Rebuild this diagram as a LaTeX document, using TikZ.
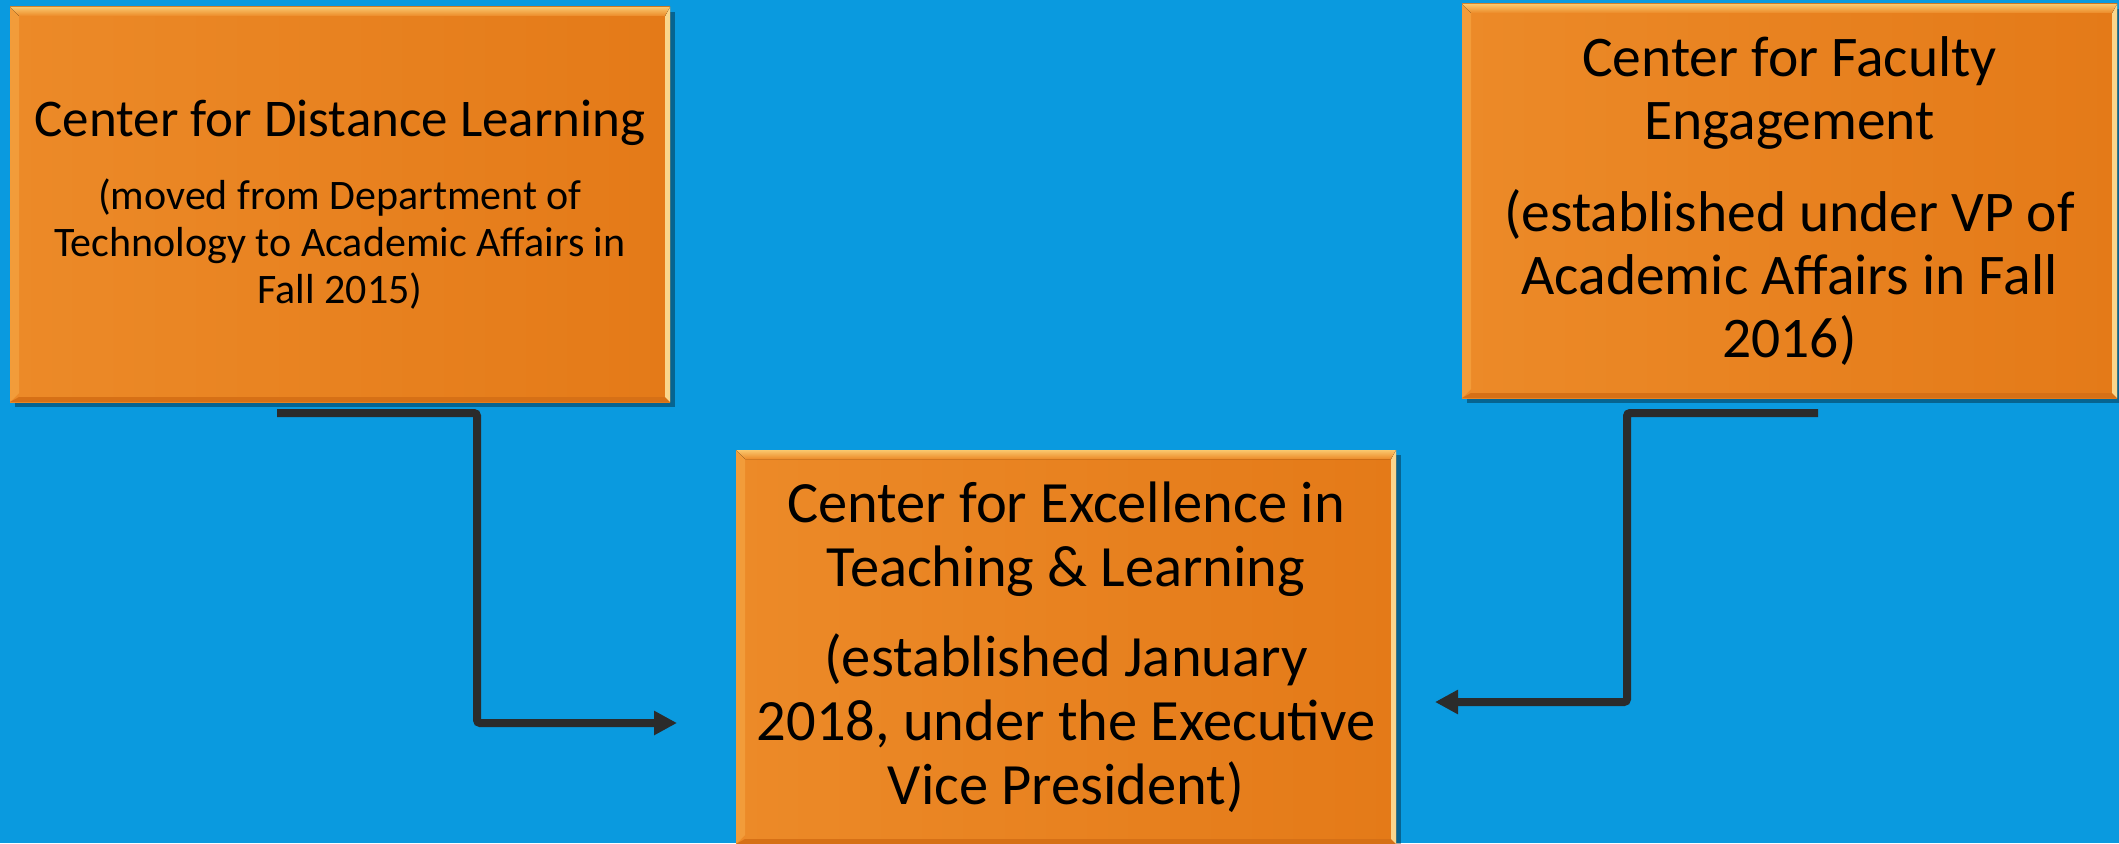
\documentclass[tikz,border=0pt]{standalone}
\usepackage{fontspec}
\setmainfont{Carlito}
\usetikzlibrary{arrows.meta,shadows}
\definecolor{bgblue}{RGB}{10,154,223}
\definecolor{orgA}{RGB}{236,138,40}
\definecolor{orgB}{RGB}{228,122,24}
\definecolor{bevTop}{RGB}{250,200,110}
\definecolor{bevLeft}{RGB}{242,156,58}
\definecolor{bevRight}{RGB}{250,214,140}
\definecolor{bevBot}{RGB}{214,112,22}
\definecolor{connc}{RGB}{43,43,43}
\tikzset{
  orgbox/.style={rectangle, inner sep=0pt, outer sep=0pt, text width=650pt, align=center,
    left color=orgA, right color=orgB,
    drop shadow={shadow xshift=5pt, shadow yshift=-5pt, fill=black, opacity=0.35},
    path picture={
      \path (path picture bounding box.north west) coordinate (pNW)
            (path picture bounding box.north east) coordinate (pNE)
            (path picture bounding box.south west) coordinate (pSW)
            (path picture bounding box.south east) coordinate (pSE);
      \fill[bevLeft] (pNW) -- ([shift={(9pt,-9pt)}]pNW) -- ([shift={(9pt,9pt)}]pSW) -- (pSW) -- cycle;
      \fill[bevBot] (pSW) -- ([shift={(9pt,5pt)}]pSW) -- ([shift={(-5pt,5pt)}]pSE) -- (pSE) -- cycle;
      \fill[bevRight] (pNE) -- ([shift={(-5pt,-9pt)}]pNE) -- ([shift={(-5pt,5pt)}]pSE) -- (pSE) -- cycle;
      \fill[top color=bevTop, bottom color=orgA] (pNW) -- (pNE) -- ([shift={(-5pt,-9pt)}]pNE) -- ([shift={(9pt,-9pt)}]pNW) -- cycle;
    }},
  conn/.style={draw=connc, line width=8pt, rounded corners=3pt, -{Triangle[length=23pt,width=23pt]}}
}
\newcommand{\fsz}[2]{\fontsize{#1}{#2}\selectfont\spaceskip=0pt\xspaceskip=0pt
  \leftskip=0pt plus 1fil\rightskip=0pt plus 1fil\parfillskip=0pt\relax}
\begin{document}
\begin{tikzpicture}[x=1pt,y=-1pt]
\useasboundingbox (0,0) rectangle (2119,843);
\fill[bgblue] (0,0) rectangle (2119,843);
% connectors
\coordinate (s1) at (277,413);
\coordinate (m1) at (477,723);
\coordinate (e1) at (677,723);
\coordinate (s2) at (1818,413);
\coordinate (m2) at (1627,702);
\coordinate (e2) at (1435,702);
\draw[conn] (s1) -| (m1) -- (e1);
\draw[conn] (s2) -| (m2) -- (e2);
% boxes
\node[orgbox, minimum width=660pt, minimum height=395pt] (cdl) at (340,204.5)
  {\parskip=0pt\fsz{53}{60}Center for Distance Learning\par\vspace{26pt}%
   \fsz{42}{47}(moved from Department of\par Technology to Academic Affairs in\par Fall 2015)\par};
\node[orgbox, minimum width=655pt, minimum height=394pt] (cfe) at (1789.5,201)
  {\parskip=0pt\fsz{57.5}{63}Center for Faculty\par Engagement\par\vspace{29pt}%
   (established under VP of\par Academic Affairs in Fall\par 2016)\par};
\node[orgbox, minimum width=660pt, minimum height=394pt] (cetl) at (1066,647)
  {\parskip=0pt\fsz{58.5}{64}Center for Excellence in\par Teaching \& Learning\par\vspace{26pt}%
   (established January\par 2018, under the Executive\par Vice President)\par};
\end{tikzpicture}
\end{document}
